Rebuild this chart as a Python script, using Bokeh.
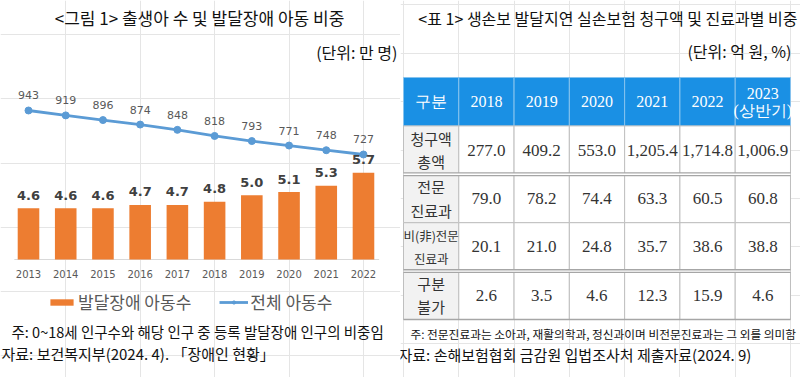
from bokeh.plotting import figure
from bokeh.layouts import row
from bokeh.models import Range1d, Legend, LegendItem
from bokeh.core.properties import value
from bokeh.embed import file_html
from bokeh.resources import INLINE

# ---------------- data: left chart ----------------
years = [2013, 2014, 2015, 2016, 2017, 2018, 2019, 2020, 2021, 2022]
dev_disability_children = [4.6, 4.6, 4.6, 4.7, 4.7, 4.8, 5.0, 5.1, 5.3, 5.7]
total_children = [943, 919, 896, 874, 848, 818, 793, 771, 748, 727]
bar_series_name = "발달장애 아동수"
line_series_name = "전체 아동수"
left_title = "<그림 1> 출생아 수 및 발달장애 아동 비중"
left_unit = "(단위: 만 명)"
left_note = "주: 0~18세 인구수와 해당 인구 중 등록 발달장애 인구의 비중임"
left_source = "자료: 보건복지부(2024. 4). 「장애인 현황」"

# ---------------- data: right table ----------------
table_columns = ["구분", "2018", "2019", "2020", "2021", "2022", "2023(상반기)"]
table_header_labels = ["구분", "2018", "2019", "2020", "2021", "2022", "2023\n(상반기)"]
row_labels = ["청구액\n총액", "전문\n진료과", "비(非)전문\n진료과", "구분\n불가"]
claims_total = [277.0, 409.2, 553.0, 1205.4, 1714.8, 1006.9]
specialist_share = [79.0, 78.2, 74.4, 63.3, 60.5, 60.8]
non_specialist_share = [20.1, 21.0, 24.8, 35.7, 38.6, 38.8]
unclassified_share = [2.6, 3.5, 4.6, 12.3, 15.9, 4.6]
right_title = "<표 1> 생손보 발달지연 실손보험 청구액 및 진료과별 비중"
right_unit = "(단위: 억 원, %)"
right_note = "주: 전문진료과는 소아과, 재활의학과, 정신과이며 비전문진료과는 그 외를 의미함"
right_source = "자료: 손해보험협회 금감원 입법조사처 제출자료(2024. 9)"

# ---------------- styles ----------------
KR = value("Noto Sans CJK KR")
NUM = value("DejaVu Sans")
SERIF = value("Liberation Serif")
ORANGE = "#ED7D31"
BLUE = "#5B9BD5"
GREY_TXT = "#595959"
HEADER_BLUE = "#1A90E4"
INK = "#111111"

W, H = 400, 377
BAR_BASE = 3.0

# ================= left: combo chart =================
p1 = figure(width=W, height=H, x_range=Range1d(2012.2477, 2022.9946),
            y_range=Range1d(-0.676, 11.0685), x_axis_location=None, y_axis_location=None,
            toolbar_location=None, output_backend="svg", min_border=0, title=None,
            outline_line_color=None)
p1.extra_x_ranges = {"px": Range1d(0, 400)}
p1.extra_y_ranges = {"py": Range1d(377, 0), "total": Range1d(-367.75, 1483.0)}

# axis base line
p1.segment(x0=[years[0] - 0.38], x1=[years[-1] + 0.42], y0=[BAR_BASE], y1=[BAR_BASE],
           line_color="#D9D9D9", line_width=1)

bars = p1.vbar(x=years, top=dev_disability_children, bottom=BAR_BASE, width=0.58,
               fill_color=ORANGE, line_color=None)
line = p1.line(years, total_children, y_range_name="total", line_color=BLUE, line_width=2.8)
pts = p1.scatter(years, total_children, y_range_name="total", size=7,
                 fill_color=BLUE, line_color=BLUE)

p1.text(x=years, y=total_children, text=[str(v) for v in total_children],
        y_range_name="total", y_offset=-15, text_align="center", text_baseline="middle",
        text_font=NUM, text_font_size="11px", text_color=GREY_TXT)
p1.text(x=years, y=dev_disability_children, text=[f"{v:.1f}" for v in dev_disability_children],
        y_offset=-13, text_align="center", text_baseline="middle", text_font=NUM,
        text_font_style="bold", text_font_size="13px", text_color="#404040")

# category tick labels
TICK_Y = 273
p1.text(x=years, y=[TICK_Y] * len(years), y_range_name="py", text=[str(y) for y in years],
        text_align="center", text_baseline="middle", text_font=NUM, text_font_size="10px",
        text_color=GREY_TXT)

# titles and notes
p1.text(x=[199], y=[17], x_range_name="px", y_range_name="py", text=[left_title],
        text_align="center", text_baseline="middle", text_font=KR, text_font_size="17px",
        text_color=INK)
p1.text(x=[397], y=[51], x_range_name="px", y_range_name="py", text=[left_unit],
        text_align="right", text_baseline="middle", text_font=KR, text_font_size="16px",
        text_color=INK)
p1.text(x=[11], y=[331], x_range_name="px", y_range_name="py", text=[left_note],
        text_align="left", text_baseline="middle", text_font=KR, text_font_size="14.5px",
        text_color=INK)
p1.text(x=[1], y=[353], x_range_name="px", y_range_name="py", text=[left_source],
        text_align="left", text_baseline="middle", text_font=KR, text_font_size="15px",
        text_color=INK)

legend = Legend(items=[LegendItem(label=bar_series_name, renderers=[bars]),
                       LegendItem(label=line_series_name, renderers=[line, pts])],
                orientation="horizontal", location=(47, 63), glyph_width=29, glyph_height=8,
                label_height=16, label_standoff=2, spacing=28, padding=0, margin=0,
                border_line_color=None, background_fill_alpha=0,
                label_text_font="Noto Sans CJK KR", label_text_font_size="17px",
                label_text_color=GREY_TXT)
p1.add_layout(legend)

# ================= right: table =================
n_cols = len(table_columns)
col_pos = {c: i + 0.5 for i, c in enumerate(table_columns)}   # column index scale
p2 = figure(width=W, height=H, x_range=Range1d(-0.0543, 7.181),
            y_range=Range1d(5.698, -2.091), x_axis_location=None, y_axis_location=None,
            toolbar_location=None, output_backend="svg", min_border=0, title=None,
            outline_line_color=None)
p2.extra_x_ranges = {"px": Range1d(400, 800)}
p2.extra_y_ranges = {"py": Range1d(377, 0)}

series = [claims_total, specialist_share, non_specialist_share, unclassified_share]
header_x = [col_pos[c] for c in table_columns]

# header cells
p2.rect(x=header_x, y=[0] * n_cols, width=1, height=1, fill_color=HEADER_BLUE,
        line_color="#86C3EE", line_width=1)
# row label cells
row_idx = list(range(1, len(series) + 1))
p2.rect(x=[col_pos[table_columns[0]]] * len(series), y=row_idx, width=1, height=1,
        fill_color="#F2F2F2", line_color="#BFBFBF", line_width=1)
# value cells
vx, vy, vt = [], [], []
for r, vals in zip(row_idx, series):
    for c, v in zip(table_columns[1:], vals):
        vx.append(col_pos[c])
        vy.append(r)
        vt.append(f"{v:,.1f}")
p2.rect(x=vx, y=vy, width=1, height=1, fill_color="white", line_color="#BFBFBF", line_width=1)

# double separators
p2.segment(x0=[0, 0], x1=[n_cols, n_cols], y0=[1.5, 3.5], y1=[1.5, 3.5],
           line_color="#A6A6A6", line_width=4)
p2.segment(x0=[0, 0], x1=[n_cols, n_cols], y0=[1.5, 3.5], y1=[1.5, 3.5],
           line_color="white", line_width=1.4)
p2.segment(x0=[0], x1=[n_cols], y0=[len(series) + 0.5], y1=[len(series) + 0.5],
           line_color="#A6A6A6", line_width=1.5)

# header text
p2.text(x=header_x, y=[0] * n_cols, text=table_header_labels, text_align="center",
        text_baseline="middle", text_font=SERIF, text_font_size="16px", text_color="white",
        text_line_height=1.0)
# row label text
main_rows = [i for i in range(len(row_labels)) if i != 2]
lab_x = col_pos[table_columns[0]]
p2.text(x=[lab_x] * len(main_rows), y=[row_idx[i] for i in main_rows],
        text=[row_labels[i] for i in main_rows], text_align="center", text_baseline="middle",
        text_font=KR, text_font_size="15px", text_color="#333333", text_line_height=1.1)
p2.text(x=[lab_x], y=[row_idx[2]], text=[row_labels[2]], text_align="center",
        text_baseline="middle", text_font=KR, text_font_size="12.5px", text_color="#333333",
        text_line_height=1.25)
# values
p2.text(x=vx, y=vy, text=vt, text_align="center", text_baseline="middle", text_font=SERIF,
        text_font_size="17px", text_color="#333333")

# titles and notes
p2.text(x=[797], y=[17], x_range_name="px", y_range_name="py", text=[right_title],
        text_align="right", text_baseline="middle", text_font=KR, text_font_size="16px",
        text_color=INK)
p2.text(x=[791], y=[50], x_range_name="px", y_range_name="py", text=[right_unit],
        text_align="right", text_baseline="middle", text_font=KR, text_font_size="16px",
        text_color=INK)
p2.text(x=[410], y=[333], x_range_name="px", y_range_name="py", text=[right_note],
        text_align="left", text_baseline="middle", text_font=KR, text_font_size="11.7px",
        text_color=INK)
p2.text(x=[398], y=[354], x_range_name="px", y_range_name="py", text=[right_source],
        text_align="left", text_baseline="middle", text_font=KR, text_font_size="15px",
        text_color=INK)

layout = row(p1, p2)
open("out.html", "w").write(file_html(layout, INLINE))
